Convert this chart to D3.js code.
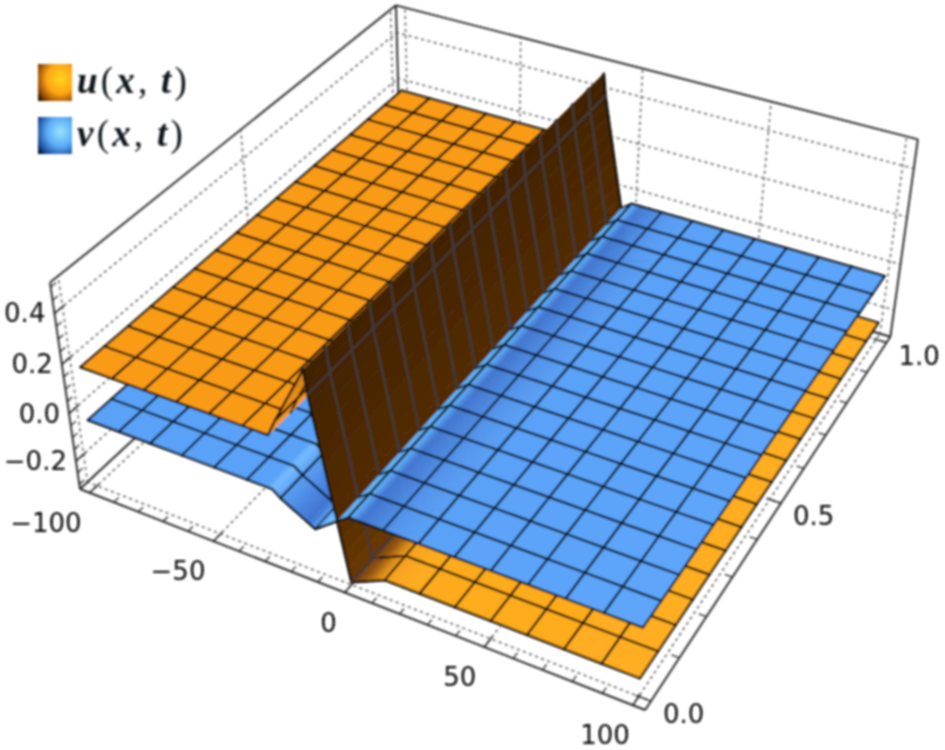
<!DOCTYPE html>
<html><head><meta charset="utf-8">
<style>html,body{margin:0;padding:0;background:#fff}svg{display:block}</style>
<script src="https://cdn.jsdelivr.net/npm/d3@7"></script>
</head><body><svg id="c" width="945" height="750"></svg>
<script>
// ---- data ----
const xKnots   = [-100,-87.5,-75,-62.5,-50,-37.5,-28,-25,-13.5,-12.5,-4.8,0,12.5,25,37.5,50,62.5,75,87.5,100];
const uValues  = [.176,.176,.176,.176,.176,.176,.176,.245,.48,.39,-.04,-.31,-.245,-.245,-.245,-.245,-.245,-.245,-.245,-.245];
const vValues  = [-.04,-.04,-.04,-.04,-.04,-.04,-.04,-.065,-.135,-.14,-.078,-.04,-.04,-.04,-.04,-.04,-.04,-.04,-.04,-.04];
const meshX    = [-100,-87.5,-75,-62.5,-50,-37.5,-25,-12.5,0,12.5,25,37.5,50,62.5,75,87.5,100];
const meshT    = [0,.0625,.125,.1875,.25,.3125,.375,.4375,.5,.5625,.625,.6875,.75,.8125,.875,.9375,1];
const xTicks   = [-100,-50,0,50,100];
const tTicks   = [0,.5,1];
const zTicks   = [-.2,0,.2,.4];
const xMinor   = [-90,-80,-70,-60,-40,-30,-20,-10,10,20,30,40,60,70,80,90];
const tMinor   = [.1,.2,.3,.4,.6,.7,.8,.9];
const zMinor   = [-.3,-.25,-.15,-.1,-.05,.05,.1,.15,.25,.3,.35,.45,.5];
const legendNames = ["u","v"];
// shading along x
const uShadeX = [-100,-28,-26,-14,-13.5,-12.5,-4,0,5,9,12.5,20,100];
const uShade  = ["#fa9b18","#fa9b18","#f2961a","#c97a16","#3e2206","#432406","#542c05","#6a3805","#94540a","#d08214","#f49f1a","#fdaa1e","#ffae20"];
const vShadeX = [-100,-30,-28,-25,-20,-15,-12.5,-8,-2,0,1.5,4,9,16,25,100];
const vShade  = ["#5aa2f8","#5aa2f8","#74bcff","#5a9ff2","#4a88e4","#3f74cf","#58a0f0","#70c0ff","#64b4ff","#6cbcff","#5aa4f4","#4378d2","#4a86de","#5698f0","#5aa2f8","#5ea6fb"];

// ---- scales and perspective box ----
const sx = d3.scaleLinear().domain([-104,104]).range([0,1]);
const st = d3.scaleLinear().domain([-.02,1.02]).range([0,1]);
const sz = d3.scaleLinear().domain([-.32,.517]).range([0,1]);
const vpX=[-4124,-1155], vpT=[1900,-1200], vpZ=[483,3261], org=[80,489];
const ka=-.1185, kb=.2141, kc=-.0693;
function P(x,t,z){
  const A=ka*sx(x),B=kb*st(t),C=kc*sz(z),w=A+B+C+1;
  return [(A*vpX[0]+B*vpT[0]+C*vpZ[0]+org[0])/w,(A*vpX[1]+B*vpT[1]+C*vpZ[1]+org[1])/w];
}
const line=d3.line();
const svg=d3.select("#c");
const defs=svg.append("defs");
defs.append("filter").attr("id","soft").attr("filterUnits","userSpaceOnUse")
    .attr("x",0).attr("y",0).attr("width",945).attr("height",750)
    .append("feGaussianBlur").attr("stdDeviation",.8);
const root=svg.append("g").attr("filter","url(#soft)");
const [x0,x1]=sx.domain(),[t0,t1]=st.domain(),[z0,z1]=sz.domain();

// ---- face grids ----
const grid=root.append("g").attr("fill","none").attr("stroke","#808080").attr("stroke-width",2)
    .attr("stroke-dasharray","1.5 5").attr("stroke-linecap","round");
const addGrid=(a,b)=>grid.append("path").attr("d",line([a,b]));
xTicks.forEach(x=>{addGrid(P(x,t0,z0),P(x,t1,z0));addGrid(P(x,t1,z0),P(x,t1,z1));});
tTicks.forEach(t=>{addGrid(P(x0,t,z0),P(x1,t,z0));addGrid(P(x0,t,z0),P(x0,t,z1));});
zTicks.forEach(z=>{addGrid(P(x0,t0,z),P(x0,t1,z));addGrid(P(x0,t1,z),P(x1,t1,z));});

// ---- box ----
const box=root.append("g").attr("fill","none").attr("stroke","#262626").attr("stroke-width",1.9);
[[[x0,t0,z1],[x0,t1,z1]],[[x0,t1,z1],[x1,t1,z1]],[[x1,t1,z1],[x1,t1,z0]],[[x1,t1,z0],[x1,t0,z0]],
 [[x1,t0,z0],[x0,t0,z0]],[[x0,t0,z0],[x0,t0,z1]],[[x0,t0,z0],[x0,t1,z0]],[[x0,t1,z0],[x0,t1,z1]],[[x0,t1,z0],[x1,t1,z0]]]
 .forEach(e=>box.append("path").attr("d",line(e.map(p=>P(...p)))));
const tick=(a,b,w)=>box.append("path").attr("stroke-width",w).attr("d",line([a,b]));
xTicks.forEach(x=>tick(P(x,t0,z0),P(x,t0+.025,z0),1.6));
xMinor.forEach(x=>tick(P(x,t0,z0),P(x,t0+.013,z0),1.3));
tTicks.forEach(t=>tick(P(x1,t,z0),P(x1-5,t,z0),1.6));
tMinor.forEach(t=>tick(P(x1,t,z0),P(x1-2.6,t,z0),1.3));
zTicks.forEach(z=>tick(P(x0,t0,z),P(x0,t0+.025,z),1.6));
zMinor.forEach(z=>tick(P(x0,t0,z),P(x0,t0+.013,z),1.3));

// ---- surfaces, painted back to front ----
const uZ=d3.scaleLinear().domain(xKnots).range(uValues);
const vZ=d3.scaleLinear().domain(xKnots).range(vValues);
const uCol=d3.scaleLinear().domain(uShadeX).range(uShade);
const vCol=d3.scaleLinear().domain(vShadeX).range(vShade);
const edges=Array.from(new Set([...xKnots,...meshX,...d3.range(-30,27,1)])).sort(d3.ascending);
const isMeshX=new Set(meshX);
const surf=root.append("g");
const uLine=x=>(x>-13.6&&x<3)?"#423a38":"#1c140a", vLine=()=>"#0e1a2e";
function cell(f,col,lc,xa,xb,j){
  const ta=meshT[j],tb=meshT[j+1];
  const a=P(xa,ta,f(xa)),b=P(xb,ta,f(xb)),c=P(xb,tb,f(xb)),d=P(xa,tb,f(xa));
  const m=(xa+xb)/2, fc=col(m);
  surf.append("path").attr("d",line([a,b,c,d])+"Z").attr("fill",fc).attr("stroke",fc).attr("stroke-width",.7);
  const seg=(p,q,s,w)=>surf.append("path").attr("d",line([p,q])).attr("fill","none").attr("stroke",s).attr("stroke-width",w).attr("stroke-linecap","round");
  const L=lc(m);
  seg(a,b,j===0?"#080808":L,2.3);
  seg(d,c,j===15?"#080808":L,2.3);
  if(isMeshX.has(xa))seg(a,d,lc(xa),2.3);
  if(isMeshX.has(xb))seg(b,c,lc(xb),2.3);
}
for(let i=0;i<edges.length-1;i++){
  const xa=edges[i],xb=edges[i+1],m=(xa+xb)/2;
  for(let j=15;j>=0;j--){
    const uLow=uZ(m)<vZ(m);
    if(uLow){cell(uZ,uCol,uLine,xa,xb,j);cell(vZ,vCol,vLine,xa,xb,j);}
    else{cell(vZ,vCol,vLine,xa,xb,j);cell(uZ,uCol,uLine,xa,xb,j);}
  }
}

// ---- tick labels ----
const fmtT=d3.format(".1f");
const lab=root.append("g").attr("font-family","'DejaVu Sans'").attr("font-size",26).attr("fill","#080808").attr("dominant-baseline","central");
const minus=s=>s.replace("-","\u2212");
xTicks.forEach(x=>{const p=P(x,t0,z0);lab.append("text").attr("x",p[0]-(x===100?3:8)).attr("y",p[1]+30).attr("text-anchor","end").text(minus(String(x)));});
tTicks.forEach(t=>{const p=P(x1,t,z0);lab.append("text").attr("x",p[0]+12).attr("y",p[1]+13).text(fmtT(t));});
zTicks.forEach(z=>{const p=P(x0,t0,z);lab.append("text").attr("x",p[0]-9).attr("y",p[1]).attr("text-anchor","end").text(minus(fmtT(z)));});

// ---- legend ----
const gradStops=[["#ffd61e","#ffa412","#8a4604","#2a1400"],["#98e4ff","#58a8f4","#1c4c9c","#041432"]];
legendNames.forEach((n,i)=>{
  const g=defs.append("radialGradient").attr("id","lg"+i).attr("cx",.66).attr("cy",.4).attr("r",.82);
  [0,.5,.85,1].forEach((o,k)=>g.append("stop").attr("offset",o).attr("stop-color",gradStops[i][k]));
  const y=64+i*53;
  root.append("rect").attr("x",38).attr("y",y).attr("width",34).attr("height",37).attr("fill",`url(#lg${i})`);
  const tx=root.append("text").attr("x",77).attr("y",y+29).attr("font-family","'Liberation Serif'").attr("font-size",37).attr("font-weight",700).attr("fill","#10141a").attr("letter-spacing",3.2);
  const it=s=>tx.append("tspan").attr("font-style","italic").text(s);
  const up=s=>tx.append("tspan").attr("font-weight",400).text(s);
  it(n);up("(");it("x");up(",\u2009");it("t");up(")");
});
</script></body></html>
